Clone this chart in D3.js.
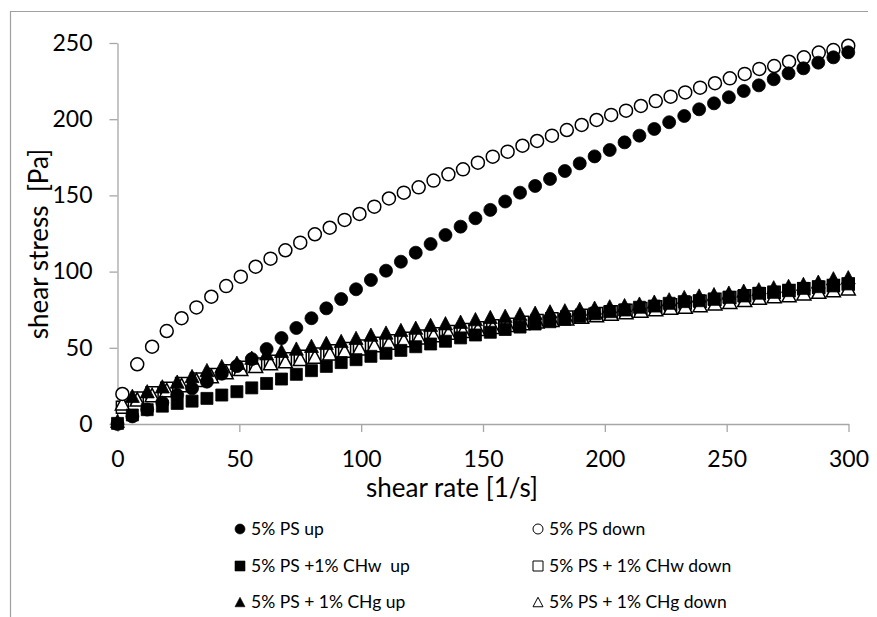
<!DOCTYPE html>
<html>
<head>
<meta charset="utf-8">
<script src="https://cdn.jsdelivr.net/npm/d3@7"></script>
<style>
  body { margin: 0; background: #fff; }
  svg { font-family: Lato, "Open Sans", sans-serif; }
</style>
</head>
<body>
<div id="chart"></div>
<script>
// shear rate grids (1/s) for the up and down ramps
var shearRateUp = [0, 6.1, 12.2, 18.4, 24.5, 30.6, 36.7, 42.8, 49, 55.1, 61.2, 67.3, 73.4, 79.6, 85.7, 91.8, 97.9, 104, 110.2, 116.3,
  122.4, 128.5, 134.6, 140.8, 146.9, 153, 159.1, 165.2, 171.4, 177.5, 183.6, 189.7, 195.8, 202, 208.1, 214.2, 220.3, 226.4, 232.6, 238.7,
  244.8, 250.9, 257, 263.2, 269.3, 275.4, 281.5, 287.6, 293.8, 299.9];
var shearRateDown = [2, 8.1, 14.2, 20.2, 26.3, 32.4, 38.5, 44.6, 50.6, 56.7, 62.8, 68.9, 75, 81, 87.1, 93.2, 99.3, 105.4, 111.4, 117.5,
  123.6, 129.7, 135.8, 141.8, 147.9, 154, 160.1, 166.2, 172.2, 178.3, 184.4, 190.5, 196.6, 202.6, 208.7, 214.8, 220.9, 227, 233, 239.1,
  245.2, 251.3, 257.4, 263.4, 269.5, 275.6, 281.7, 287.8, 293.8, 299.9];

// shear stress (Pa)
var psUp = [0, 5, 9.5, 14, 19, 23.4, 27.8, 33, 38, 42.6, 49.2, 56.4, 63, 69.4, 75.9, 82, 88.4, 94.5, 100.6, 106.5,
  112.4, 118.1, 124, 129.5, 135, 140.5, 146, 151.8, 156.2, 160.8, 166, 171, 175.6, 179.8, 184.8, 189.2, 193.6, 198, 202.1, 206.5,
  210.4, 214.4, 218.5, 222.2, 226.2, 230.1, 233.4, 237.1, 240.6, 243.9];
var psDown = [19.7, 39.2, 50.7, 61, 69.4, 76.5, 83.5, 90.5, 96.7, 103.2, 108.5, 114, 119, 124.5, 128.8, 133.9, 137.8, 142.6, 148, 151.8,
  155.3, 159.7, 163.8, 167.1, 171.5, 175.4, 178.7, 182.6, 185.7, 189.2, 192.9, 196.2, 199.5, 202.8, 205.6, 208.7, 211.9, 214.8, 217.6, 220.7,
  223.6, 226.8, 229.7, 233, 234.9, 237.7, 240.6, 243.7, 245.4, 248.2];
var chwUp = [0.4, 5.9, 9.4, 11.7, 13.5, 15, 16.8, 19, 21.2, 23.7, 26.6, 29.5, 32.6, 35, 37.8, 40.3, 42.2, 44.4, 46.4, 48.3,
  50.7, 52.5, 54.3, 56.5, 58.4, 60.2, 62, 63.6, 65.6, 67.1, 68.7, 70.6, 72.3, 73.7, 74.8, 76.6, 77.4, 79.2, 80.3, 80.9,
  81.8, 83.1, 84, 85.8, 86.4, 87.5, 89, 90.1, 90.6, 91.9];
var chwDown = [11, 17, 20.5, 23.5, 26.5, 29.5, 32.5, 35, 37.3, 39.3, 41.2, 42.8, 44.4, 46, 48, 49.6, 51.2, 53, 54.6, 56.2,
  57.8, 59.3, 60.7, 62, 63.2, 64.4, 65.5, 66.7, 67.9, 69, 70.2, 71.3, 72.5, 73.6, 74.7, 75.8, 76.9, 78.2, 79.4, 80.6,
  81.8, 83, 84.2, 85.4, 86.5, 87.6, 88.7, 89.8, 90.8, 91.8];
var chgUp = [2, 18.5, 21.5, 24.7, 27.8, 31.5, 35.4, 38, 40.2, 43.5, 46.4, 48, 49.5, 51.3, 53.2, 54.5, 56.5, 58.6, 60, 61.7,
  63.2, 65, 66.1, 67.1, 68.8, 70.2, 71, 72.2, 73, 73.9, 74.6, 75.6, 76.3, 77.2, 78, 79, 80.3, 81.8, 83.3, 84.3,
  85.2, 86.2, 87.5, 88.4, 89.7, 90.6, 91.9, 93.4, 95.6, 96.3];
var chgDown = [13.6, 16.2, 19, 22.3, 25.6, 28.9, 31.5, 34, 36.2, 38.2, 40, 41.2, 42.7, 44.3, 46.4, 48.1, 49.7, 51.8, 53.4, 55.1,
  56.9, 58.4, 59.9, 61.2, 62.5, 63.8, 65, 66.2, 67.3, 68.4, 69.4, 70.4, 71.4, 72.4, 73.4, 74.4, 75.4, 76.3, 77, 78.1,
  79.2, 80.2, 81.4, 82.9, 84, 84.6, 85.8, 86.8, 87.9, 89];

var xTicks = [0, 50, 100, 150, 200, 250, 300];
var yTicks = [0, 50, 100, 150, 200, 250];
var legendLabels = ["5% PS up", "5% PS down", "5% PS +1% CHw  up", "5% PS + 1% CHw down", "5% PS + 1% CHg up", "5% PS + 1% CHg down"];

// size settings
var tot_width = 877, tot_height = 617;
var svg = d3.select("#chart").append("svg")
  .attr("width", tot_width).attr("height", tot_height);

// outer frame (top and left edges only show in the picture)
svg.append("path")
  .attr("d", "M10.5,617 L10.5,11.5 L868,11.5")
  .attr("fill", "none").attr("stroke", "#a0a0a0").attr("stroke-width", 1.2);

var x = d3.scaleLinear().domain([0, 300]).range([117.5, 848.5]);
var y = d3.scaleLinear().domain([0, 250]).range([424, 43]);
var axisColor = "#a6a6a6";

// AXIS
var gx = svg.append("g")
  .attr("transform", "translate(0," + y(0) + ")")
  .call(d3.axisBottom(x).tickValues(xTicks).tickSize(8).tickSizeOuter(0).tickPadding(19));
var gy = svg.append("g")
  .attr("transform", "translate(" + x(0) + ",0)")
  .call(d3.axisLeft(y).tickValues(yTicks).tickSize(8).tickSizeOuter(0).tickPadding(17));
[gx, gy].forEach(function(g) {
  g.select(".domain").attr("stroke", axisColor).attr("stroke-width", 1.3);
  g.selectAll(".tick line").attr("stroke", axisColor).attr("stroke-width", 1.3);
  g.selectAll(".tick text").attr("fill", "#000").style("font-size", "23px").style("font-family", "Lato, sans-serif");
});

svg.append("text")
  .attr("x", 452).attr("y", 497)
  .attr("text-anchor", "middle")
  .style("font-size", "26px")
  .text("shear rate [1/s]");
svg.append("text")
  .attr("transform", "translate(48,244) rotate(-90)")
  .attr("text-anchor", "middle")
  .style("font-size", "26px")
  .style("white-space", "pre")
  .text("shear stress  [Pa]");

// series definitions, built from the arrays above
function makeSeries(xs, ys) { return xs.map(function(v, i) { return {x: v, y: ys[i]}; }); }
var series = [
  {name: legendLabels[0], data: makeSeries(shearRateUp, psUp), shape: "circle", filled: true},
  {name: legendLabels[1], data: makeSeries(shearRateDown, psDown), shape: "circle", filled: false},
  {name: legendLabels[2], data: makeSeries(shearRateUp, chwUp), shape: "square", filled: true},
  {name: legendLabels[3], data: makeSeries(shearRateDown, chwDown), shape: "square", filled: false},
  {name: legendLabels[4], data: makeSeries(shearRateUp, chgUp), shape: "triangle", filled: true},
  {name: legendLabels[5], data: makeSeries(shearRateDown, chgDown), shape: "triangle", filled: false}
];

function markerPath(shape, s) {
  // s = overall marker width in px
  if (shape === "circle") return d3.symbol(d3.symbolCircle, Math.PI * (s / 2) * (s / 2))();
  if (shape === "square") return d3.symbol(d3.symbolSquare, s * s)();
  var h = s * 0.95;
  return "M0," + (-h / 2) + "L" + (s / 2) + "," + (h / 2) + "L" + (-s / 2) + "," + (h / 2) + "Z";
}
var markerSize = {circle: 13, square: 12, triangle: 14};

// open markers first, filled ones on top
var drawOrder = [3, 5, 1, 2, 4, 0];
var plot = svg.append("g");
drawOrder.forEach(function(si) {
  var s = series[si];
  plot.append("g").selectAll("path")
    .data(s.data)
    .enter().append("path")
      .attr("transform", function(d) { return "translate(" + x(d.x) + "," + y(d.y) + ")"; })
      .attr("d", markerPath(s.shape, markerSize[s.shape]))
      .attr("fill", s.filled ? "#000" : "#fff")
      .attr("stroke", "#000")
      .attr("stroke-width", s.filled ? 0.8 : 1.5);
});

// legend
var legendX = [240, 538], legendY = [529, 566, 602];
var legend = svg.append("g");
series.forEach(function(s, i) {
  var lx = legendX[i % 2], ly = legendY[Math.floor(i / 2)];
  legend.append("path")
    .attr("transform", "translate(" + lx + "," + ly + ")")
    .attr("d", markerPath(s.shape, 10))
    .attr("fill", s.filled ? "#000" : "#fff")
    .attr("stroke", "#000")
    .attr("stroke-width", s.filled ? 0.6 : 1);
  legend.append("text")
    .attr("x", lx + 11).attr("y", ly)
    .attr("dy", "0.36em")
    .style("font-size", "17.5px")
    .style("white-space", "pre")
    .text(s.name);
});
</script>
</body>
</html>
